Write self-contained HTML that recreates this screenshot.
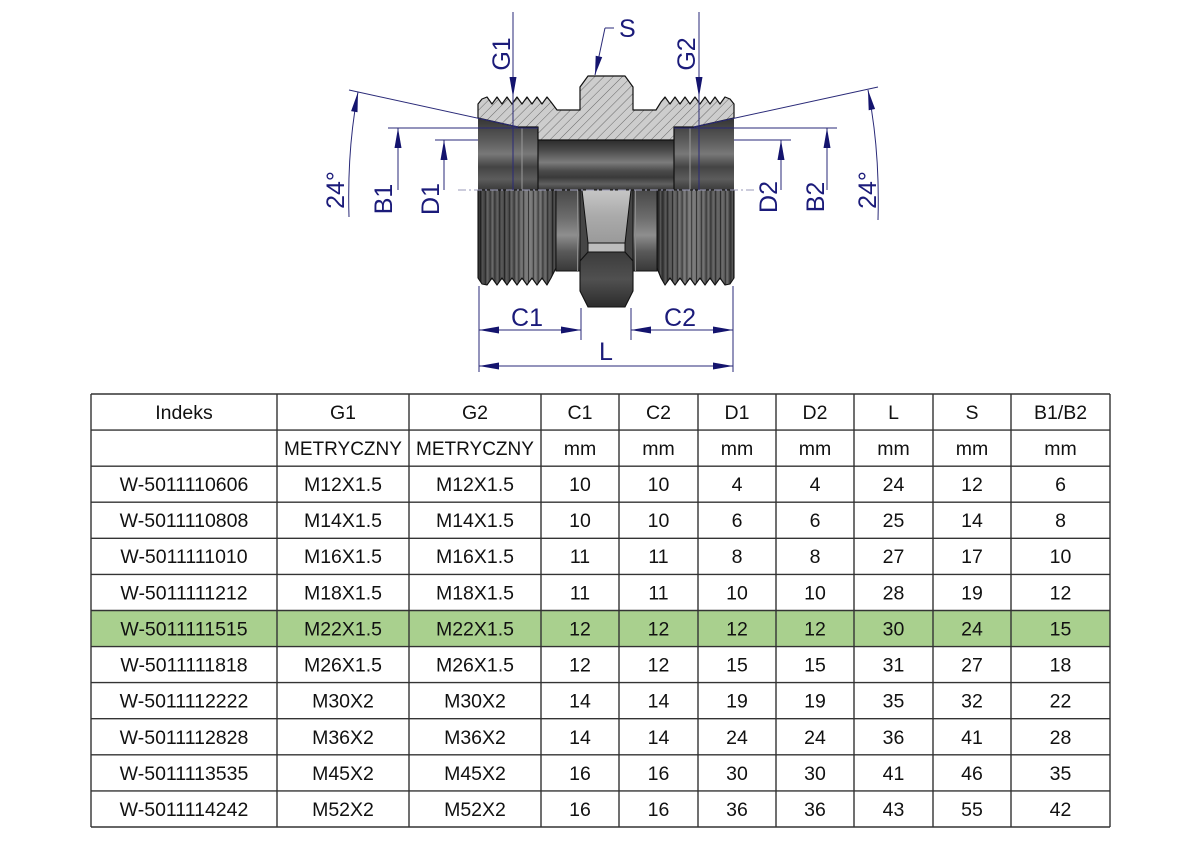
<!DOCTYPE html>
<html><head><meta charset="utf-8">
<style>
html,body{margin:0;padding:0;background:#fff;}
svg{display:block;}
text{font-family:"Liberation Sans",Arial,sans-serif;}
</style></head><body>
<svg width="1191" height="842" viewBox="0 0 1191 842" xmlns="http://www.w3.org/2000/svg">
<defs>
<pattern id="hatch" patternUnits="userSpaceOnUse" width="6.5" height="6.5" patternTransform="rotate(45)">
 <rect width="6.5" height="6.5" fill="#cdcdcd"/>
 <line x1="0" y1="0" x2="0" y2="6.5" stroke="#5e5e5e" stroke-width="0.9"/>
</pattern>
<linearGradient id="bore" gradientUnits="userSpaceOnUse" x1="0" y1="140" x2="0" y2="190">
 <stop offset="0" stop-color="#2c2c2c"/>
 <stop offset="0.2" stop-color="#4a4a4a"/>
 <stop offset="0.45" stop-color="#7c7c7c"/>
 <stop offset="0.62" stop-color="#4a4a4a"/>
 <stop offset="0.75" stop-color="#3a3a3a"/>
 <stop offset="0.88" stop-color="#606060"/>
 <stop offset="1" stop-color="#383838"/>
</linearGradient>
<linearGradient id="cbore" gradientUnits="userSpaceOnUse" x1="0" y1="118" x2="0" y2="190">
 <stop offset="0" stop-color="#353535"/>
 <stop offset="0.3" stop-color="#5a5a5a"/>
 <stop offset="0.5" stop-color="#787878"/>
 <stop offset="0.68" stop-color="#444444"/>
 <stop offset="0.85" stop-color="#5c5c5c"/>
 <stop offset="1" stop-color="#3a3a3a"/>
</linearGradient>
<linearGradient id="thrL" gradientUnits="userSpaceOnUse" x1="478" y1="0" x2="556" y2="0">
 <stop offset="0" stop-color="#303030"/>
 <stop offset="0.15" stop-color="#5a5a5a"/>
 <stop offset="0.35" stop-color="#484848"/>
 <stop offset="0.65" stop-color="#7a7a7a"/>
 <stop offset="0.85" stop-color="#626262"/>
 <stop offset="1" stop-color="#383838"/>
</linearGradient>
<linearGradient id="thrR" gradientUnits="userSpaceOnUse" x1="657" y1="0" x2="734" y2="0">
 <stop offset="0" stop-color="#343434"/>
 <stop offset="0.2" stop-color="#585858"/>
 <stop offset="0.45" stop-color="#7a7a7a"/>
 <stop offset="0.7" stop-color="#585858"/>
 <stop offset="0.9" stop-color="#626262"/>
 <stop offset="1" stop-color="#343434"/>
</linearGradient>
<linearGradient id="neck" gradientUnits="userSpaceOnUse" x1="0" y1="190" x2="0" y2="272">
 <stop offset="0" stop-color="#484848"/>
 <stop offset="0.35" stop-color="#6e6e6e"/>
 <stop offset="0.55" stop-color="#8e8e8e"/>
 <stop offset="0.75" stop-color="#5a5a5a"/>
 <stop offset="1" stop-color="#363636"/>
</linearGradient>
<linearGradient id="trap" gradientUnits="userSpaceOnUse" x1="0" y1="190" x2="0" y2="243">
 <stop offset="0" stop-color="#c6c6c6"/>
 <stop offset="0.5" stop-color="#aaaaaa"/>
 <stop offset="1" stop-color="#9a9a9a"/>
</linearGradient>
<linearGradient id="hexg" gradientUnits="userSpaceOnUse" x1="0" y1="252" x2="0" y2="307">
 <stop offset="0" stop-color="#3c3c3c"/>
 <stop offset="0.5" stop-color="#505050"/>
 <stop offset="1" stop-color="#2c2c2c"/>
</linearGradient>
<pattern id="tl" patternUnits="userSpaceOnUse" x="480" y="0" width="4.8" height="300">
 <line x1="0.5" y1="0" x2="0.5" y2="300" stroke="#151515" stroke-width="0.9" opacity="0.75"/>
 <line x1="2.8" y1="0" x2="2.8" y2="300" stroke="#a0a0a0" stroke-width="0.6" opacity="0.4"/>
</pattern>
</defs>

<!-- upper interior -->
<rect x="478" y="110" width="60" height="80" fill="url(#cbore)"/>
<rect x="538" y="138" width="136" height="52" fill="url(#bore)"/>
<rect x="674" y="110" width="60" height="80" fill="url(#cbore)"/>
<line x1="522" y1="127" x2="522" y2="190" stroke="#9a9a9a" stroke-width="1"/>
<line x1="538" y1="127" x2="538" y2="190" stroke="#111" stroke-width="1.2"/>
<line x1="690" y1="127" x2="690" y2="190" stroke="#9a9a9a" stroke-width="1"/>
<line x1="674" y1="127" x2="674" y2="190" stroke="#111" stroke-width="1.2"/>

<!-- hatched section -->
<path d="M478,118 L478,104 L482,99 L487,97 L492,104 L497,97 L502,104 L507,97 L512,104 L517,97 L522,104 L527,97 L532,104 L537,97 L542,104 L547,97 L551,102 L557,110 L580,110 L580,87 L588,76 L625,76 L633,87 L633,110 L656,110 L661,102 L665,97 L670,104 L675,97 L680,104 L685,97 L690,104 L695,97 L700,104 L705,97 L710,104 L715,97 L720,104 L725,97 L730,99 L734,104 L734,118 L694,127 L674,127 L674,140 L538,140 L538,127 L518,127 Z" fill="url(#hatch)" stroke="#111" stroke-width="1.2" stroke-linejoin="round"/>

<!-- lower external view -->
<path d="M478,190 L556,190 L556,268 L551,278 L547,285 L542,278 L537,285 L532,278 L527,285 L522,278 L517,285 L512,278 L507,285 L502,278 L497,285 L492,278 L487,285 L482,284 L478,278 Z" fill="url(#thrL)"/>
<path d="M478,190 L556,190 L556,268 L551,278 L547,285 L542,278 L537,285 L532,278 L527,285 L522,278 L517,285 L512,278 L507,285 L502,278 L497,285 L492,278 L487,285 L482,284 L478,278 Z" fill="url(#tl)" stroke="#111" stroke-width="1.1" stroke-linejoin="round"/>
<path d="M657,190 L734,190 L734,278 L730,284 L725,285 L720,278 L715,285 L710,278 L705,285 L700,278 L695,285 L690,278 L685,285 L680,278 L675,285 L670,278 L665,285 L661,278 L657,268 Z" fill="url(#thrR)"/>
<path d="M657,190 L734,190 L734,278 L730,284 L725,285 L720,278 L715,285 L710,278 L705,285 L700,278 L695,285 L690,278 L685,285 L680,278 L675,285 L670,278 L665,285 L661,278 L657,268 Z" fill="url(#tl)" stroke="#111" stroke-width="1.1" stroke-linejoin="round"/>

<rect x="556" y="190" width="24" height="81" fill="url(#neck)" stroke="#111" stroke-width="1"/>
<rect x="633" y="190" width="24" height="81" fill="url(#neck)" stroke="#111" stroke-width="1"/>
<line x1="577.5" y1="190" x2="577.5" y2="271" stroke="#8a8a8a" stroke-width="1"/>
<line x1="635.5" y1="190" x2="635.5" y2="271" stroke="#8a8a8a" stroke-width="1"/>
<rect x="580" y="190" width="53" height="72" fill="#454545" stroke="#111" stroke-width="1"/>
<polygon points="582,190 631,190 625,243 588,243" fill="url(#trap)" stroke="#111" stroke-width="1"/>
<rect x="588" y="243" width="37" height="9" fill="#bdbdbd" stroke="#111" stroke-width="1"/>
<polygon points="588,252 625,252 633,261 633,291 625,307 588,307 580,291 580,261" fill="url(#hexg)" stroke="#111" stroke-width="1.1"/>

<!-- centerline -->
<line x1="458" y1="190" x2="756" y2="190" stroke="#9a9ab8" stroke-width="1" stroke-dasharray="8 3 2 3"/>

<!-- dimension lines -->
<g stroke="#2a2a78" stroke-width="1" fill="none">
 <line x1="513" y1="12" x2="513" y2="190"/>
 <line x1="699" y1="12" x2="699" y2="190"/>
 <line x1="605" y1="28" x2="614" y2="28"/>
 <line x1="605" y1="28" x2="595" y2="75"/>
 <line x1="349" y1="90" x2="518" y2="127"/>
 <line x1="694" y1="127" x2="878" y2="87"/>
 <path d="M358,92 Q347,150 349,217"/>
 <path d="M868,90 Q880,150 878,220"/>
 <line x1="388" y1="128" x2="538" y2="128"/>
 <line x1="398" y1="128" x2="398" y2="190"/>
 <line x1="435" y1="140" x2="478" y2="140"/>
 <line x1="444" y1="140" x2="444" y2="190"/>
 <line x1="674" y1="128" x2="837" y2="128"/>
 <line x1="827" y1="128" x2="827" y2="190"/>
 <line x1="734" y1="140" x2="791" y2="140"/>
 <line x1="781" y1="140" x2="781" y2="190"/>
 <line x1="479" y1="286" x2="479" y2="372"/>
 <line x1="733" y1="286" x2="733" y2="372"/>
 <line x1="581" y1="308" x2="581" y2="340"/>
 <line x1="631" y1="308" x2="631" y2="340"/>
 <line x1="479" y1="330" x2="581" y2="330"/>
 <line x1="631" y1="330" x2="733" y2="330"/>
 <line x1="479" y1="366" x2="733" y2="366"/>
</g>
<g fill="#14146e">
 <polygon points="513,97 509.5,77 516.5,77"/>
 <polygon points="699,97 695.5,77 702.5,77"/>
 <polygon points="595,75 602.2,57.1 595.7,55.7"/>
 <polygon points="358,92 357.5,112.3 351.1,111.1"/>
 <polygon points="868,90 875.1,109 868.7,110.3"/>
 <polygon points="398,128 394.5,148 401.5,148"/>
 <polygon points="444,140 440.5,160 447.5,160"/>
 <polygon points="781,140 777.5,160 784.5,160"/>
 <polygon points="827,128 823.5,148 830.5,148"/>
 <polygon points="479,330 499,326.5 499,333.5"/>
 <polygon points="581,330 561,326.5 561,333.5"/>
 <polygon points="631,330 651,326.5 651,333.5"/>
 <polygon points="733,330 713,326.5 713,333.5"/>
 <polygon points="479,366 499,362.5 499,369.5"/>
 <polygon points="733,366 713,362.5 713,369.5"/>
</g>
<g fill="#1b1b7a" font-size="25">
 <text x="619" y="37">S</text>
 <text transform="translate(510,54) rotate(-90)" text-anchor="middle">G1</text>
 <text transform="translate(695,54) rotate(-90)" text-anchor="middle">G2</text>
 <text transform="translate(344,190) rotate(-90)" text-anchor="middle">24°</text>
 <text transform="translate(392,199) rotate(-90)" text-anchor="middle">B1</text>
 <text transform="translate(439,199) rotate(-90)" text-anchor="middle">D1</text>
 <text transform="translate(777,197) rotate(-90)" text-anchor="middle">D2</text>
 <text transform="translate(824,197) rotate(-90)" text-anchor="middle">B2</text>
 <text transform="translate(876,190) rotate(-90)" text-anchor="middle">24°</text>
 <text x="527" y="326" text-anchor="middle">C1</text>
 <text x="680" y="326" text-anchor="middle">C2</text>
 <text x="606" y="360" text-anchor="middle">L</text>
</g>

<!-- table -->
<rect x="91" y="610.5" width="1019" height="36.1" fill="#a9d08e"/>
<g stroke="#333" stroke-width="1.4">
 <line x1="91" y1="394" x2="1110" y2="394"/>
 <line x1="91" y1="430.1" x2="1110" y2="430.1"/>
 <line x1="91" y1="466.2" x2="1110" y2="466.2"/>
 <line x1="91" y1="502.2" x2="1110" y2="502.2"/>
 <line x1="91" y1="538.3" x2="1110" y2="538.3"/>
 <line x1="91" y1="574.4" x2="1110" y2="574.4"/>
 <line x1="91" y1="610.5" x2="1110" y2="610.5"/>
 <line x1="91" y1="646.6" x2="1110" y2="646.6"/>
 <line x1="91" y1="682.6" x2="1110" y2="682.6"/>
 <line x1="91" y1="718.7" x2="1110" y2="718.7"/>
 <line x1="91" y1="754.8" x2="1110" y2="754.8"/>
 <line x1="91" y1="790.9" x2="1110" y2="790.9"/>
 <line x1="91" y1="827" x2="1110" y2="827"/>
 <line x1="91" y1="394" x2="91" y2="827"/>
 <line x1="277" y1="394" x2="277" y2="827"/>
 <line x1="409" y1="394" x2="409" y2="827"/>
 <line x1="541" y1="394" x2="541" y2="827"/>
 <line x1="619" y1="394" x2="619" y2="827"/>
 <line x1="698" y1="394" x2="698" y2="827"/>
 <line x1="776" y1="394" x2="776" y2="827"/>
 <line x1="854" y1="394" x2="854" y2="827"/>
 <line x1="933" y1="394" x2="933" y2="827"/>
 <line x1="1011" y1="394" x2="1011" y2="827"/>
 <line x1="1110" y1="394" x2="1110" y2="827"/>
</g>
<g fill="#111" font-size="19.5" text-anchor="middle">
 <text x="184" y="419">Indeks</text><text x="343" y="419">G1</text><text x="475" y="419">G2</text><text x="580" y="419">C1</text><text x="658.5" y="419">C2</text><text x="737" y="419">D1</text><text x="815" y="419">D2</text><text x="893.5" y="419">L</text><text x="972" y="419">S</text><text x="1060.5" y="419">B1/B2</text>
 <text x="343" y="455" font-size="19">METRYCZNY</text><text x="475" y="455" font-size="19">METRYCZNY</text><text x="580" y="455">mm</text><text x="658.5" y="455">mm</text><text x="737" y="455">mm</text><text x="815" y="455">mm</text><text x="893.5" y="455">mm</text><text x="972" y="455">mm</text><text x="1060.5" y="455">mm</text>

 <text x="184" y="491">W-5011110606</text><text x="343" y="491">M12X1.5</text><text x="475" y="491">M12X1.5</text><text x="580" y="491">10</text><text x="658.5" y="491">10</text><text x="737" y="491">4</text><text x="815" y="491">4</text><text x="893.5" y="491">24</text><text x="972" y="491">12</text><text x="1060.5" y="491">6</text>
 <text x="184" y="527">W-5011110808</text><text x="343" y="527">M14X1.5</text><text x="475" y="527">M14X1.5</text><text x="580" y="527">10</text><text x="658.5" y="527">10</text><text x="737" y="527">6</text><text x="815" y="527">6</text><text x="893.5" y="527">25</text><text x="972" y="527">14</text><text x="1060.5" y="527">8</text>
 <text x="184" y="563">W-5011111010</text><text x="343" y="563">M16X1.5</text><text x="475" y="563">M16X1.5</text><text x="580" y="563">11</text><text x="658.5" y="563">11</text><text x="737" y="563">8</text><text x="815" y="563">8</text><text x="893.5" y="563">27</text><text x="972" y="563">17</text><text x="1060.5" y="563">10</text>
 <text x="184" y="599.5">W-5011111212</text><text x="343" y="599.5">M18X1.5</text><text x="475" y="599.5">M18X1.5</text><text x="580" y="599.5">11</text><text x="658.5" y="599.5">11</text><text x="737" y="599.5">10</text><text x="815" y="599.5">10</text><text x="893.5" y="599.5">28</text><text x="972" y="599.5">19</text><text x="1060.5" y="599.5">12</text>
 <text x="184" y="635.5">W-5011111515</text><text x="343" y="635.5">M22X1.5</text><text x="475" y="635.5">M22X1.5</text><text x="580" y="635.5">12</text><text x="658.5" y="635.5">12</text><text x="737" y="635.5">12</text><text x="815" y="635.5">12</text><text x="893.5" y="635.5">30</text><text x="972" y="635.5">24</text><text x="1060.5" y="635.5">15</text>
 <text x="184" y="671.5">W-5011111818</text><text x="343" y="671.5">M26X1.5</text><text x="475" y="671.5">M26X1.5</text><text x="580" y="671.5">12</text><text x="658.5" y="671.5">12</text><text x="737" y="671.5">15</text><text x="815" y="671.5">15</text><text x="893.5" y="671.5">31</text><text x="972" y="671.5">27</text><text x="1060.5" y="671.5">18</text>
 <text x="184" y="707.5">W-5011112222</text><text x="343" y="707.5">M30X2</text><text x="475" y="707.5">M30X2</text><text x="580" y="707.5">14</text><text x="658.5" y="707.5">14</text><text x="737" y="707.5">19</text><text x="815" y="707.5">19</text><text x="893.5" y="707.5">35</text><text x="972" y="707.5">32</text><text x="1060.5" y="707.5">22</text>
 <text x="184" y="744">W-5011112828</text><text x="343" y="744">M36X2</text><text x="475" y="744">M36X2</text><text x="580" y="744">14</text><text x="658.5" y="744">14</text><text x="737" y="744">24</text><text x="815" y="744">24</text><text x="893.5" y="744">36</text><text x="972" y="744">41</text><text x="1060.5" y="744">28</text>
 <text x="184" y="780">W-5011113535</text><text x="343" y="780">M45X2</text><text x="475" y="780">M45X2</text><text x="580" y="780">16</text><text x="658.5" y="780">16</text><text x="737" y="780">30</text><text x="815" y="780">30</text><text x="893.5" y="780">41</text><text x="972" y="780">46</text><text x="1060.5" y="780">35</text>
 <text x="184" y="816">W-5011114242</text><text x="343" y="816">M52X2</text><text x="475" y="816">M52X2</text><text x="580" y="816">16</text><text x="658.5" y="816">16</text><text x="737" y="816">36</text><text x="815" y="816">36</text><text x="893.5" y="816">43</text><text x="972" y="816">55</text><text x="1060.5" y="816">42</text>
</g>
</svg>
</body></html>
